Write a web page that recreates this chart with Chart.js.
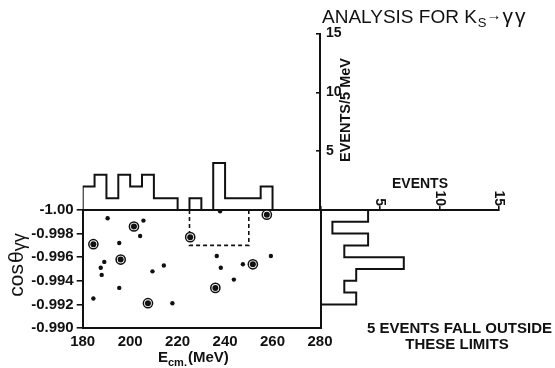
<!DOCTYPE html>
<html><head><meta charset="utf-8">
<script src="https://cdn.jsdelivr.net/npm/chart.js@4.4.1/dist/chart.umd.min.js"></script>
<style>
html,body{margin:0;padding:0;background:#fff;}
#wrap{position:relative;width:555px;height:368px;background:#fff;overflow:hidden;}
#wrap canvas{position:absolute;left:0;top:0;}
</style></head><body>
<div id="wrap">
<canvas id="cT" width="555" height="368"></canvas>
<canvas id="cR" width="555" height="368"></canvas>
<canvas id="cM" width="555" height="368"></canvas>
</div>
<script>
// ---------- data ----------
const energyBinEdges  = [180,185,190,195,200,205,210,215,220,225,230,235,240,245,250,255,260];
const energyBinCounts = [2,3,1,3,2,3,1,1,0,1,0,4,1,1,1,2];          // events / 5 MeV
const cosBinEdges  = [-1.000,-0.999,-0.998,-0.997,-0.996,-0.995,-0.994,-0.993,-0.992];
const cosBinCounts = [4,1,4,2,7,3,2,3];                               // events / 0.001
const dotE   = [190.5,205.6,204.2,195.4,189.1,187.6,188.0,195.4,184.5,209.4,214.2,217.8,237.9,236.5,238.2,247.5,243.7,259.3];
const dotCos = [-0.9993,-0.9991,-0.9978,-0.9972,-0.9956,-0.9951,-0.9945,-0.9934,-0.9925,-0.9948,-0.9953,-0.9921,-0.9999,-0.9961,-0.9951,-0.9954,-0.9941,-0.9961];
const ringE   = [184.5,201.6,196.0,207.5,225.3,235.9,251.7,257.6];
const ringCos = [-0.9971,-0.9986,-0.9958,-0.9921,-0.9977,-0.9934,-0.9954,-0.9996];
const cutE   = [225, 250];
const cutCos = [-1.000, -0.997];
const energyTicks = [180,200,220,240,260,280];
const energyTickLabels = ['180','200','220','240','260','280'];
const cosTicks = [-1.000,-0.998,-0.996,-0.994,-0.992,-0.990];
const cosTickLabels = ['-1.00','-0.998','-0.996','-0.994','-0.992','-0.990'];
const eventTicks = [0,5,10,15];
const eventTickLabels = ['','5','10','15'];

// ---------- helpers ----------
const INK = '#111';
const FONT = '"Liberation Sans", Arial, sans-serif';
Chart.defaults.font.family = FONT;
Chart.defaults.color = INK;

function histOutline(edges, counts, horizontal) {
  const pts = [];
  const push = (pos, c) => pts.push(horizontal ? {x: c, y: pos} : {x: pos, y: c});
  push(edges[0], 0);
  counts.forEach((c, i) => { push(edges[i], c); push(edges[i + 1], c); });
  push(edges[edges.length - 1], 0);
  return pts;
}
const zip = (xs, ys) => xs.map((x, i) => ({x, y: ys[i]}));

function drawRich(ctx, x, y, parts, o) {
  o = o || {};
  ctx.save();
  ctx.translate(x, y);
  ctx.rotate(o.rotate || 0);
  ctx.scale(o.scaleX || 1, 1);
  ctx.fillStyle = INK; ctx.textAlign = 'left'; ctx.textBaseline = 'alphabetic';
  const f = p => `${p.weight || 'bold'} ${p.size}px ${FONT}`;
  let total = 0;
  parts.forEach(p => { ctx.font = f(p); total += (p.gap || 0) + ctx.measureText(p.t).width; });
  let cx = o.align === 'center' ? -total / 2 : (o.align === 'right' ? -total : 0);
  parts.forEach(p => {
    ctx.font = f(p); cx += (p.gap || 0);
    ctx.fillText(p.t, cx, p.dy || 0);
    cx += ctx.measureText(p.t).width;
  });
  ctx.restore();
}

const common = {
  responsive: false, animation: false, devicePixelRatio: 1, events: [],
  plugins: {legend: {display: false}, tooltip: {enabled: false}}
};

const textPlugin = {
  id: 'texts',
  afterDraw(chart) {
    const ctx = chart.ctx;
    // title
    drawRich(ctx, 322, 23, [{t: 'ANALYSIS FOR K', size: 19, weight: 'normal'}, {t: 'S', size: 13, weight: 'normal', dy: 4, gap: 1},
      {t: '→', size: 15, weight: 'bold', dy: -3, gap: 0}, {t: 'γ', size: 21, weight: 'normal', gap: 1}, {t: 'γ', size: 21, weight: 'normal', gap: 2}]);
    // y axis title
    drawRich(ctx, 23, 265, [{t: 'cos', size: 21, weight: 'normal'}, {t: 'θ', size: 21, weight: 'normal', gap: 1},
      {t: 'γγ', size: 18, weight: 'normal', dy: 2}], {rotate: -Math.PI / 2, align: 'center'});
    // x axis title
    drawRich(ctx, 158, 362, [{t: 'E', size: 15}, {t: 'cm.', size: 11, dy: 4}, {t: '(MeV)', size: 15, gap: 1}]);
    // top histogram axis title
    drawRich(ctx, 350, 110, [{t: 'EVENTS/5 MeV', size: 14.5}], {rotate: -Math.PI / 2, align: 'center'});
    // right histogram axis title
    drawRich(ctx, 420, 188, [{t: 'EVENTS', size: 14}], {align: 'center'});
    // note
    drawRich(ctx, 459.5, 333, [{t: '5 EVENTS FALL OUTSIDE', size: 15}], {align: 'center'});
    drawRich(ctx, 457, 349, [{t: 'THESE LIMITS', size: 15}], {align: 'center'});
  }
};

const eventAxisLabels = {
  id: 'eventAxisLabels',
  afterDraw(chart) {
    const s = chart.scales.x, ctx = chart.ctx;
    ctx.save();
    ctx.fillStyle = INK; ctx.font = `bold 14px ${FONT}`;
    eventTicks.forEach((v, i) => {
      if (!eventTickLabels[i]) return;
      ctx.save();
      ctx.translate(s.getPixelForValue(v), s.bottom - 4);
      ctx.rotate(Math.PI / 2);
      ctx.textAlign = 'right'; ctx.textBaseline = 'middle';
      ctx.fillText(eventTickLabels[i], 0, 0);
      ctx.restore();
    });
    ctx.restore();
  }
};

// ---------- top histogram (events / 5 MeV) ----------
new Chart(document.getElementById('cT'), {
  type: 'scatter',
  data: {datasets: [{data: histOutline(energyBinEdges, energyBinCounts, false), showLine: true,
    borderColor: INK, borderWidth: 2, pointRadius: 0, fill: false}]},
  options: Object.assign({}, common, {
    layout: {padding: {left: 82.7, top: 33.5, right: 195, bottom: 158}},
    scales: {
      x: {type: 'linear', min: 180, max: 280, position: 'bottom', afterFit: s => { s.height = 0; },
        ticks: {display: false}, grid: {display: false, drawTicks: false},
        border: {display: true, color: INK, width: 2}},
      y: {type: 'linear', min: 0, max: 15, position: 'right', afterFit: s => { s.width = 40; },
        afterBuildTicks: s => { s.ticks = eventTicks.map(v => ({value: v})); },
        ticks: {callback: (v, i) => eventTickLabels[i], padding: 10, font: {size: 14, weight: 'bold'}, color: INK, autoSkip: false},
        grid: {display: true, drawOnChartArea: false, drawTicks: true, tickLength: -4, color: INK, lineWidth: 1.6},
        border: {display: true, color: INK, width: 2}}
    }
  })
});

// ---------- right histogram (events per cos bin) ----------
new Chart(document.getElementById('cR'), {
  type: 'scatter',
  data: {datasets: [{data: histOutline(cosBinEdges, cosBinCounts, true), showLine: true,
    borderColor: INK, borderWidth: 2, pointRadius: 0, fill: false}]},
  options: Object.assign({}, common, {
    layout: {padding: {left: 320.5, top: 210, right: 56, bottom: 40}},
    scales: {
      x: {type: 'linear', min: 0, max: 15, position: 'top', afterFit: s => { s.height = 0; },
        afterBuildTicks: s => { s.ticks = eventTicks.map(v => ({value: v})); },
        ticks: {display: false},
        grid: {display: true, drawOnChartArea: false, drawTicks: true, tickLength: 4, color: INK, lineWidth: 1.6},
        border: {display: true, color: INK, width: 2}},
      y: {type: 'linear', min: -1.000, max: -0.990, reverse: true, position: 'left', afterFit: s => { s.width = 0; },
        ticks: {display: false}, grid: {display: false, drawTicks: false},
        border: {display: true, color: INK, width: 2}}
    }
  }),
  plugins: [eventAxisLabels]
});

// ---------- main scatter ----------
new Chart(document.getElementById('cM'), {
  type: 'scatter',
  data: {datasets: [
    {data: zip(ringE, ringCos), pointRadius: 3, pointBackgroundColor: INK, pointBorderWidth: 0},
    {data: zip(ringE, ringCos), pointRadius: 4.6, pointBackgroundColor: '#fff', pointBorderColor: INK, pointBorderWidth: 1.5},
    {data: zip(dotE, dotCos), pointRadius: 2.2, pointBackgroundColor: INK, pointBorderWidth: 0},
    {data: [{x: cutE[0], y: cutCos[0]}, {x: cutE[0], y: cutCos[1]}, {x: cutE[1], y: cutCos[1]}, {x: cutE[1], y: cutCos[0]}],
      showLine: true, borderColor: INK, borderWidth: 1.6, borderDash: [4, 3], pointRadius: 0, fill: false}
  ]},
  options: Object.assign({}, common, {
    layout: {padding: {left: 0, top: 210, right: 235, bottom: 0}},
    scales: {
      x: {type: 'linear', min: 180, max: 280, position: 'bottom', afterFit: s => { s.height = 40; },
        afterBuildTicks: s => { s.ticks = energyTicks.map(v => ({value: v})); },
        ticks: {callback: (v, i) => energyTickLabels[i], padding: 5, font: {size: 15, weight: 'bold'}, color: INK, maxRotation: 0, autoSkip: false},
        grid: {display: false, drawTicks: false},
        border: {display: true, color: INK, width: 2}},
      y: {type: 'linear', min: -1.000, max: -0.990, reverse: true, position: 'left', afterFit: s => { s.width = 82.7; },
        afterBuildTicks: s => { s.ticks = cosTicks.map(v => ({value: v})); },
        ticks: {callback: (v, i) => cosTickLabels[i], padding: 3, font: {size: 15, weight: 'bold'}, color: INK, autoSkip: false},
        grid: {display: true, drawOnChartArea: false, drawTicks: true, tickLength: 6, color: INK, lineWidth: 1.6},
        border: {display: true, color: INK, width: 2}}
    }
  }),
  plugins: [textPlugin]
});
</script>
</body></html>
